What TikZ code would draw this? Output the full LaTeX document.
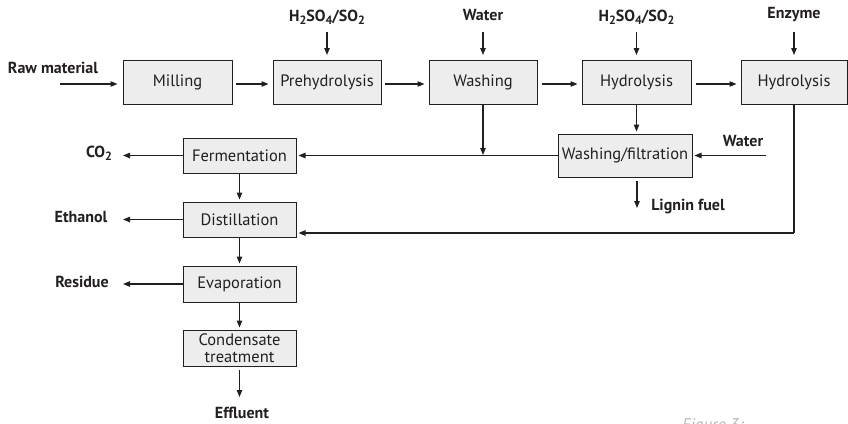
\documentclass[tikz,border=0pt]{standalone}
\usepackage{fontspec}
\setmainfont{PT Sans}
\usetikzlibrary{arrows.meta}
\newcommand\sbx[1]{\raisebox{-0.35ex}{\fontsize{12}{12}\selectfont #1}}
\definecolor{ink}{HTML}{231F20}
\definecolor{boxfill}{HTML}{EDEDED}
\begin{document}
\begin{tikzpicture}[x=1pt,y=-1pt,
  every node/.style={text=ink},
  procbox/.style={draw=ink,line width=1pt,fill=boxfill,inner sep=0pt,align=center,
     font=\fontsize{16.5}{17}\selectfont,minimum height=35pt},
  lbl/.style={font=\fontsize{16}{17}\selectfont\bfseries,inner sep=0pt},
  arr/.style={draw=ink,line width=1.1pt,-{Triangle[length=7pt,width=5.5pt]}},
  ln/.style={draw=ink,line width=1.1pt}]
\useasboundingbox (0,0) rectangle (848,423);
% top row
\node[procbox,minimum width=109pt,minimum height=44pt] (mill) at (177.5,82.5) {Milling};
\node[procbox,minimum width=108pt,minimum height=44pt] (preh) at (327,82.5) {Prehydrolysis};
\node[procbox,minimum width=108pt,minimum height=44pt] (wash) at (483,82.5) {Washing};
\node[procbox,minimum width=109pt,minimum height=44pt] (hyda) at (636.5,82.5) {Hydrolysis};
\node[procbox,minimum width=106pt,minimum height=44pt] (hydb) at (794,82.5) {Hydrolysis};
% left column
\node[procbox,minimum width=113pt] (ferm) at (239.5,155.5) {Fermentation};
\node[procbox,minimum width=113pt] (dist) at (239.5,219.5) {Distillation};
\node[procbox,minimum width=113pt,minimum height=36pt] (evap) at (239.5,284) {Evaporation};
\node[procbox,minimum width=113pt,minimum height=36pt,font=\fontsize{16.5}{17.5}\selectfont] (cond) at (239.5,348) {Condensate\\treatment};
\node[procbox,minimum width=134pt,minimum height=43pt] (wf) at (625,155.5) {Washing/filtration};
% labels
\node[lbl] (raw) at (53,68) {Raw material};
\node[lbl] (acia) at (327,17) {H\sbx{2}SO\sbx{4}/SO\sbx{2}};
\node[lbl] (wata) at (483,15) {Water};
\node[lbl] (acib) at (636.5,17) {H\sbx{2}SO\sbx{4}/SO\sbx{2}};
\node[lbl] (enz) at (794,15) {Enzyme};
\node[lbl] (co) at (99,153) {CO\sbx{2}};
\node[lbl] (eth) at (81,217) {Ethanol};
\node[lbl] (res) at (82,282) {Residue};
\node[lbl] (eff) at (242,413) {Effluent};
\node[lbl] (watb) at (743,141) {Water};
\node[lbl] (lig) at (688,207) {Lignin fuel};
\node[anchor=base west,inner sep=0pt,text=black!28,font=\fontsize{17}{18}\selectfont\itshape] (fig) at (682,430) {Figure 3:};
% coordinates
\coordinate (rawst) at (60,84);
\coordinate (ta) at (327,32);
\coordinate (tb) at (483,32);
\coordinate (tc) at (636.5,32);
\coordinate (td) at (794,32);
\coordinate (coend) at (123,155.5);
\coordinate (ethend) at (123,219.5);
\coordinate (resend) at (123,284);
\coordinate (effend) at (239.5,397);
\coordinate (junc) at (483,155.5);
\coordinate (wbst) at (766,155.5);
\coordinate (liga) at (637,181);
\coordinate (ligb) at (637,208);
\coordinate (corner) at (794,233);
% connectors top row
\draw[arr,shorten >=5pt] (rawst) -- (rawst -| mill.west);
\draw[arr,shorten <=3pt,shorten >=4pt] (mill.east |- rawst) -- (preh.west |- rawst);
\draw[arr,shorten <=3pt,shorten >=4pt] (preh.east |- rawst) -- (wash.west |- rawst);
\draw[arr,shorten <=4pt,shorten >=4pt] (wash.east |- rawst) -- (hyda.west |- rawst);
\draw[arr,shorten <=4pt,shorten >=4pt] (hyda.east |- rawst) -- (hydb.west |- rawst);
\draw[arr,shorten >=5pt] (ta) -- (preh.north);
\draw[arr,shorten >=5pt] (tb) -- (wash.north);
\draw[arr,shorten >=5pt] (tc) -- (hyda.north);
\draw[arr,shorten >=5pt] (td) -- (hydb.north);
% middle
\draw[arr,shorten >=0.5pt] (wash.south) -- (junc);
\draw[arr,shorten >=2pt] (hyda.south) -- (hyda.south |- wf.north);
\draw[arr,shorten >=2pt] (wf.west) -- (ferm.east);
\draw[arr,shorten >=2pt] (wbst) -- (wf.east);
\draw[arr] (liga) -- (ligb);
\draw[ln] (hydb.south) -- (corner);
\draw[arr,shorten >=2pt] (corner) -- (corner -| dist.east);
% left column
\draw[arr] (ferm.west) -- (coend);
\draw[arr] (dist.west) -- (ethend);
\draw[arr] (evap.west) -- (resend);
\draw[arr,shorten >=2pt] (ferm.south) -- (dist.north);
\draw[arr,shorten >=2pt] (dist.south) -- (evap.north);
\draw[arr,shorten >=2pt] (evap.south) -- (cond.north);
\draw[arr,shorten <=3pt] (cond.south) -- (effend);
\end{tikzpicture}
\end{document}
